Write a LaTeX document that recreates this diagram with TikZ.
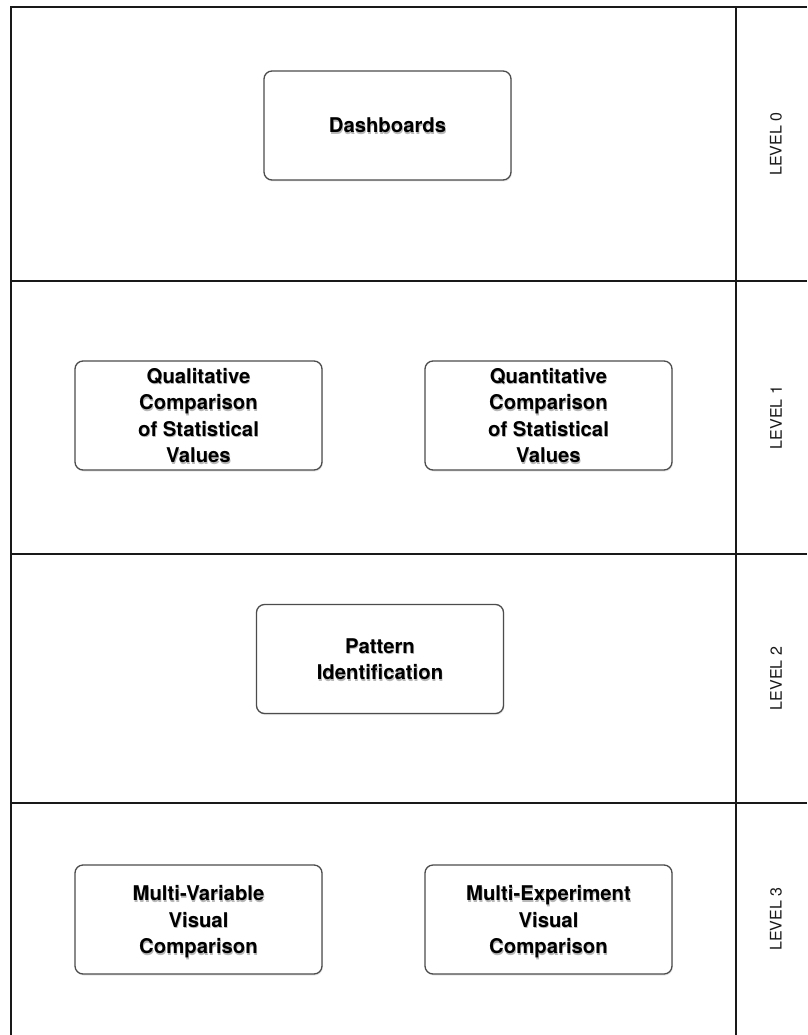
\documentclass[tikz,border=0pt]{standalone}
\usepackage{fontspec}
\setmainfont{TeX Gyre Heros}
\usetikzlibrary{shadows}

% multi-line centred text with a soft grey shadow underneath
\newcommand\stacklines[1]{\begin{tabular}{@{}c@{}}#1\end{tabular}}
\newcommand\shadowed[1]{\leavevmode\raisebox{0pt}[\height][\dimexpr\depth-6pt\relax]{%
  \rlap{\raisebox{-1.6pt}{\kern0.7pt\color{black!28}\stacklines{#1}}}\stacklines{#1}}}

\begin{document}
\begin{tikzpicture}[x=1pt,y=-1pt,
  frame/.style={line width=2pt,draw=black!90},
  taskbox/.style={draw=black!70,line width=1.3pt,rounded corners=8pt,fill=white,
    minimum width=247pt,minimum height=109pt,inner sep=0pt,
    drop shadow={shadow xshift=0.8pt,shadow yshift=-1.5pt,opacity=0.18},
    font=\fontsize{20.3}{26.5}\selectfont\bfseries,align=center},
  levellabel/.style={rotate=90,font=\fontsize{16}{19}\selectfont,text=black!90}]
\useasboundingbox (0,0) rectangle (807,1035);
\fill[white] (0,0) rectangle (807,1035);

% swimlane grid
\coordinate (tl) at (11,7);
\coordinate (tr) at (807,7);
\coordinate (bl) at (11,1035);
\coordinate (ct) at (736,7);
\coordinate (cb) at (736,1035);
\coordinate (l1) at (11,281);
\coordinate (r1) at (807,281);
\coordinate (l2) at (11,554);
\coordinate (r2) at (807,554);
\coordinate (l3) at (11,803);
\coordinate (r3) at (807,803);
\draw[frame] (bl) -- (tl) -- (tr);
\draw[frame] (ct) -- (cb);
\draw[frame] (l1) -- (r1);
\draw[frame] (l2) -- (r2);
\draw[frame] (l3) -- (r3);

% level labels
\node[levellabel] (lv0) at (776,144) {LEVEL 0};
\node[levellabel] (lv1) at (776,417.5) {LEVEL 1};
\node[levellabel] (lv2) at (776,678.5) {LEVEL 2};
\node[levellabel] (lv3) at (776,919) {LEVEL 3};

% tasks
\node[taskbox] (dash) at (387.5,125.5) {\shadowed{Dashboards}};
\node[taskbox] (qual) at (198.5,415.5) {\shadowed{Qualitative\\Comparison\\of Statistical\\Values}};
\node[taskbox] (quan) at (548.5,415.5) {\shadowed{Quantitative\\Comparison\\of Statistical\\Values}};
\node[taskbox] (patt) at (380,659) {\shadowed{Pattern\\Identification}};
\node[taskbox] (mvar) at (198.5,919.5) {\shadowed{Multi-Variable\\Visual\\Comparison}};
\node[taskbox] (mexp) at (548.5,919.5) {\shadowed{Multi-Experiment\\Visual\\Comparison}};
\end{tikzpicture}
\end{document}
